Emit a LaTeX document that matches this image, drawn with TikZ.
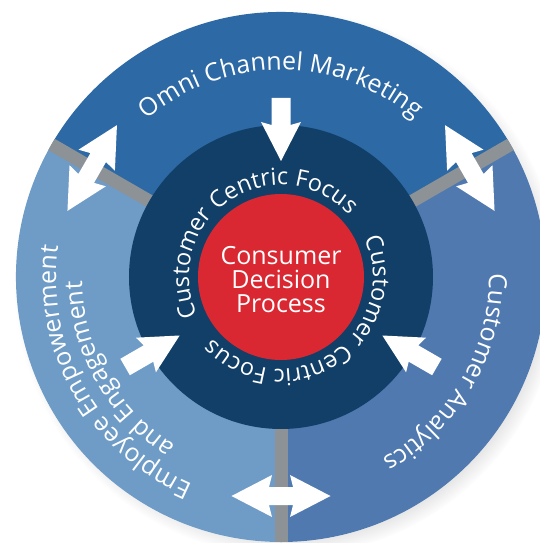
\documentclass[tikz,border=0pt]{standalone}
\usepackage{fontspec}
\usetikzlibrary{decorations.text,shadows}
\newfontfamily\diagfont{Open Sans}
\newcommand\ringfont{\diagfont\fontsize{25}{25}\selectfont}
\newcommand\innerfont{\diagfont\fontsize{23.5}{23.5}\selectfont}
\newcommand\corefont{\diagfont\fontsize{25}{24}\selectfont}
\definecolor{topblue}{HTML}{2D69A4}
\definecolor{rightblue}{HTML}{5079AF}
\definecolor{leftblue}{HTML}{6E9CC7}
\definecolor{navy}{HTML}{113F67}
\definecolor{corered}{HTML}{DA2833}
\definecolor{sepgray}{HTML}{8C9295}
\tikzset{
  sepline/.style={sepgray,line width=13pt},
  ringtext/.style={decorate,decoration={text along path,text align=center,text color=white}},
  inarrow/.pic={\fill[white] (0pt,-9.5pt) -- (27pt,-9.5pt) -- (24pt,-20pt) -- (63pt,0pt)
    -- (24pt,20pt) -- (27pt,9.5pt) -- (0pt,9.5pt) -- cycle;},
  biarrow/.pic={\fill[white] (-49.5pt,0pt) -- (-9pt,21pt) -- (-12pt,9pt) -- (12pt,9pt)
    -- (9pt,21pt) -- (49.5pt,0pt) -- (9pt,-21pt) -- (12pt,-9pt) -- (-12pt,-9pt)
    -- (-9pt,-21pt) -- cycle;}
}
\begin{document}
\begin{tikzpicture}
  \useasboundingbox (-281pt,-266pt) rectangle (258pt,277pt);
  \path[fill=white,circular drop shadow={shadow xshift=6pt,shadow yshift=-6pt,shadow scale=1.03,opacity=.45}]
    (0pt,0pt) circle (265pt);
  \fill[topblue] (0pt,0pt) -- (30:265pt) arc[start angle=30,end angle=150,radius=265pt] -- cycle;
  \fill[leftblue] (0pt,0pt) -- (150:265pt) arc[start angle=150,end angle=270,radius=265pt] -- cycle;
  \fill[rightblue] (0pt,0pt) -- (270:265pt) arc[start angle=270,end angle=390,radius=265pt] -- cycle;
  \begin{scope}
    \clip (0pt,0pt) circle (265pt);
    \foreach \a in {30,150,270}
      \draw[sepline] (\a:150pt) -- (\a:270pt);
  \end{scope}
  \node[circle,fill=navy,minimum size=304pt,inner sep=0pt] (focus) at (0pt,0pt) {};
  \node[circle,fill=corered,minimum size=166pt,inner sep=0pt] (core) at (0pt,0pt) {};
  \node[align=center,text=white,font=\corefont] (cdp) at (0pt,-3pt) {Consumer\\Decision\\Process};

  \path[ringtext,decoration={text={|\ringfont|Omni Channel Marketing}}]
    (140:207pt) arc[start angle=140,end angle=40,radius=207pt];
  \path[ringtext,decoration={text={|\ringfont|Customer Analytics}}]
    (15:208pt) arc[start angle=15,end angle=-75,radius=208pt];
  \path[ringtext,decoration={text={|\ringfont|Employee Empowerment}}]
    (259.5:225pt) arc[start angle=259.5,end angle=159.5,radius=225pt];
  \path[ringtext,decoration={text={|\ringfont|and Engagement}}]
    (259.5:199pt) arc[start angle=259.5,end angle=159.5,radius=199pt];
  \path[ringtext,decoration={text={|\innerfont|Customer Centric Focus}}]
    (213.5:92pt) arc[start angle=213.5,end angle=33.5,radius=92pt];
  \path[ringtext,decoration={text={|\innerfont|Customer Centric Focus}}]
    (33.5:92pt) arc[start angle=33.5,end angle=-146.5,radius=92pt];

  \pic[rotate=270] (omniIn) at (90:179pt) {inarrow};
  \pic[rotate=30] (staffIn) at (210:180pt) {inarrow};
  \pic[rotate=150] (dataIn) at (330:180pt) {inarrow};
  \pic[rotate=60] (omniStaff) at (150:218pt) {biarrow};
  \pic[rotate=120] (omniData) at (30:218pt) {biarrow};
  \pic[rotate=0] (staffData) at (270:219pt) {biarrow};
\end{tikzpicture}
\end{document}
